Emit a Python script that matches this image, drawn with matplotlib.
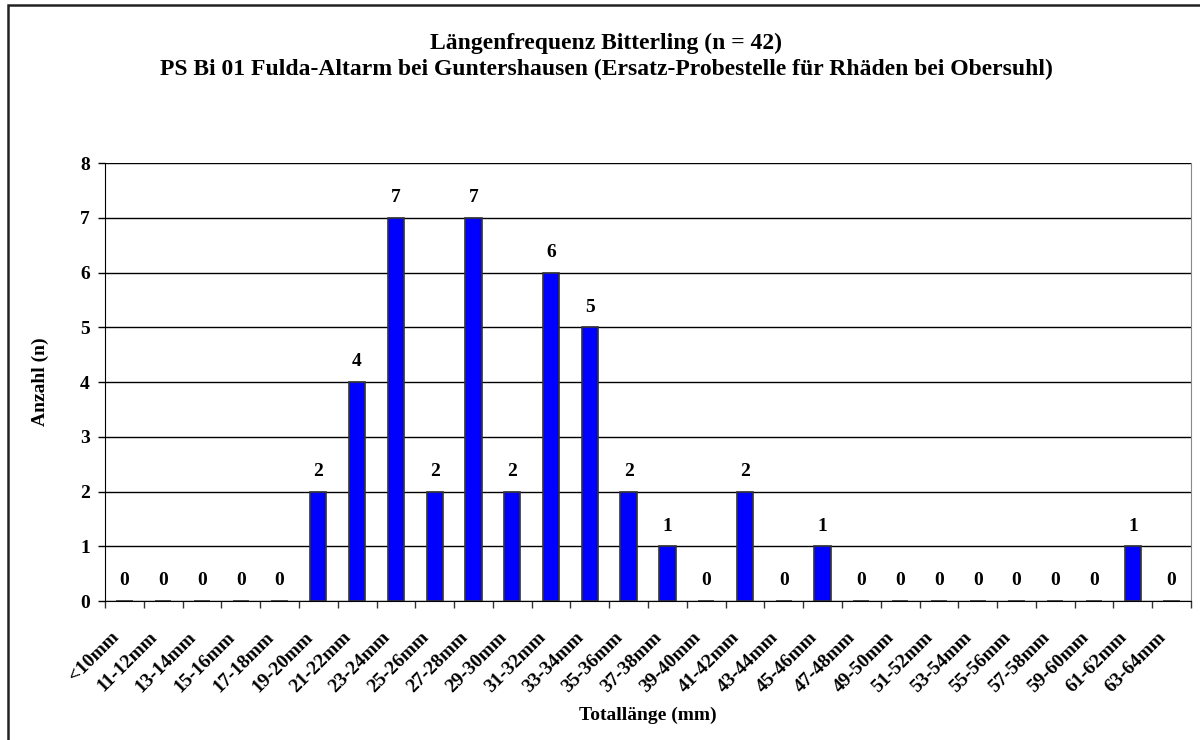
import matplotlib.pyplot as plt
import numpy as np
from matplotlib.patches import Rectangle
from matplotlib.transforms import ScaledTranslation

plt.rcParams['font.family'] = ['Liberation Serif', 'DejaVu Serif']
plt.rcParams['font.weight'] = 'bold'

categories = ['<10mm', '11-12mm', '13-14mm', '15-16mm', '17-18mm', '19-20mm',
              '21-22mm', '23-24mm', '25-26mm', '27-28mm', '29-30mm', '31-32mm',
              '33-34mm', '35-36mm', '37-38mm', '39-40mm', '41-42mm', '43-44mm',
              '45-46mm', '47-48mm', '49-50mm', '51-52mm', '53-54mm', '55-56mm',
              '57-58mm', '59-60mm', '61-62mm', '63-64mm']
counts = [0, 0, 0, 0, 0, 2, 4, 7, 2, 7, 2, 6, 5, 2, 1, 0, 2, 0, 1, 0, 0, 0,
          0, 0, 0, 0, 1, 0]

fig = plt.figure(figsize=(12, 7.4), dpi=100)
ax = fig.add_axes([105 / 1200, 1 - 601 / 740, 1086 / 1200, 438 / 740])

x = np.arange(len(categories))
ax.bar(x, counts, width=0.42, color='#0000FF', edgecolor='#333333',
       linewidth=1.2, zorder=3)

for xi, v in zip(x, counts):
    ax.annotate(str(v), (xi, v), xytext=(0, 14.5), textcoords='offset points',
                ha='center', va='center', fontsize=14, fontweight='bold')

ax.set_xlim(-0.5, len(categories) - 0.5)
ax.set_ylim(0, 8)
ax.set_yticks(range(0, 9))
ax.yaxis.grid(True, color='black', linewidth=1)
ax.set_axisbelow(True)
ax.tick_params(axis='y', labelsize=14, length=5, width=1, pad=6)

ax.set_xticks(x)
ax.set_xticklabels(categories, rotation=45, ha='right', va='center',
                   rotation_mode='anchor', fontsize=14, fontweight='bold')
ax.tick_params(axis='x', which='major', length=0, pad=24)
ax.set_xticks(np.arange(-0.5, len(categories)), minor=True)
ax.tick_params(axis='x', which='minor', length=5, width=1, color='#333333')
# nudge the slanted labels a little to the left, as in the original
shift = ScaledTranslation(-6 / 72, 0, fig.dpi_scale_trans)
for lab in ax.get_xticklabels():
    lab.set_transform(lab.get_transform() + shift)

ax.spines['top'].set_visible(False)
ax.spines['right'].set_color('#888888')
ax.spines['left'].set_color('black')
ax.spines['bottom'].set_color('black')

ax.set_ylabel('Anzahl (n)', fontsize=14, fontweight='bold', labelpad=22)
ax.set_xlabel('Totallänge (mm)', fontsize=14, fontweight='bold', labelpad=8)

fig.text(0.505, 1 - 56 / 740,
         'Längenfrequenz Bitterling (n = 42)\n'
         'PS Bi 01 Fulda-Altarm bei Guntershausen (Ersatz-Probestelle für Rhäden bei Obersuhl)',
         ha='center', va='center', fontsize=17, fontweight='bold', linespacing=1.3)

fig.patches.append(Rectangle((8 / 1200, -0.1), 1.2, 1.1 - 5 / 740,
                             transform=fig.transFigure, fill=False,
                             edgecolor='#222222', linewidth=1.8))

fig.savefig('out.png', dpi=100)
